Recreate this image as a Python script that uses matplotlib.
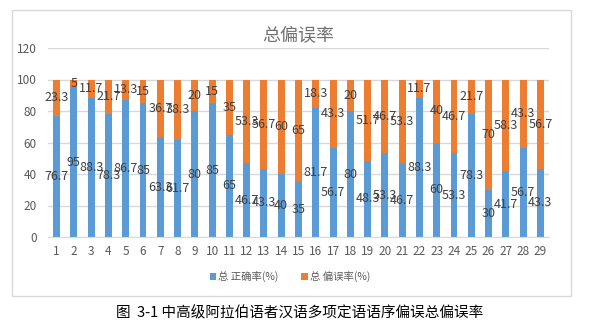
import matplotlib.pyplot as plt
import numpy as np
from matplotlib.patches import Rectangle

plt.rcParams["font.family"] = ["Noto Sans CJK SC", "DejaVu Sans"]

items = [str(i) for i in range(1, 30)]
correct = [76.7, 95, 88.3, 78.3, 86.7, 85, 63.3, 61.7, 80, 85, 65, 46.7, 43.3, 40, 35,
           81.7, 56.7, 80, 48.3, 53.3, 46.7, 88.3, 60, 53.3, 78.3, 30, 41.7, 56.7, 43.3]
error = [23.3, 5, 11.7, 21.7, 13.3, 15, 36.7, 38.3, 20, 15, 35, 53.3, 56.7, 60, 65,
         18.3, 43.3, 20, 51.7, 46.7, 53.3, 11.7, 40, 46.7, 21.7, 70, 58.3, 43.3, 56.7]
yticks = [0, 20, 40, 60, 80, 100, 120]

blue = "#5B9BD5"
orange = "#ED7D31"
text_grey = "#595959"

fig = plt.figure(figsize=(5.98, 3.25), dpi=100)
W, H = 598, 325

# chart frame
fig.patches.append(Rectangle((12 / W, 1 - 296 / H), (571 - 12) / W, (296 - 10) / H,
                             transform=fig.transFigure, fill=False,
                             edgecolor="#D9D9D9", linewidth=1))

ax = fig.add_axes([48 / W, 1 - 237 / H, (549 - 48) / W, (237 - 48) / H])
x = np.arange(len(items))
ax.bar(x, correct, width=0.4, color=blue, label="总 正确率(%)")
ax.bar(x, error, width=0.4, bottom=correct, color=orange, label="总 偏误率(%)")

for i in range(len(items)):
    ax.text(x[i], correct[i] / 2, "{:g}".format(correct[i]), ha="center", va="center",
            fontsize=9, color="#404040")
    ax.text(x[i], correct[i] + error[i] / 2, "{:g}".format(error[i]), ha="center",
            va="center", fontsize=9, color="#404040")

ax.set_ylim(0, 120)
ax.set_xlim(-0.5, len(items) - 0.5)
ax.set_yticks(yticks)
ax.set_xticks(x, labels=items)
ax.tick_params(axis="both", length=0, labelsize=8.5, labelcolor=text_grey)
ax.tick_params(axis="y", pad=8)
ax.tick_params(axis="x", pad=6)
ax.grid(axis="y", color="#D9D9D9", linewidth=1)
ax.set_axisbelow(True)
for side in ["top", "right", "left"]:
    ax.spines[side].set_visible(False)
ax.spines["bottom"].set_color("#D9D9D9")

ax.set_title("总偏误率", fontsize=13, color="#707070", pad=5)

fig.legend(loc="center", bbox_to_anchor=(290 / W, 1 - 277 / H), ncol=2, frameon=False,
           fontsize=7.5, labelcolor=text_grey, handlelength=0.6, handleheight=0.6,
           handletextpad=0.2, columnspacing=2.2)

fig.text(300 / W, 1 - 313 / H, "图  3-1 中高级阿拉伯语者汉语多项定语语序偏误总偏误率",
         ha="center", va="center", fontsize=10.5, color="black")

fig.savefig("out.png", dpi=100)
